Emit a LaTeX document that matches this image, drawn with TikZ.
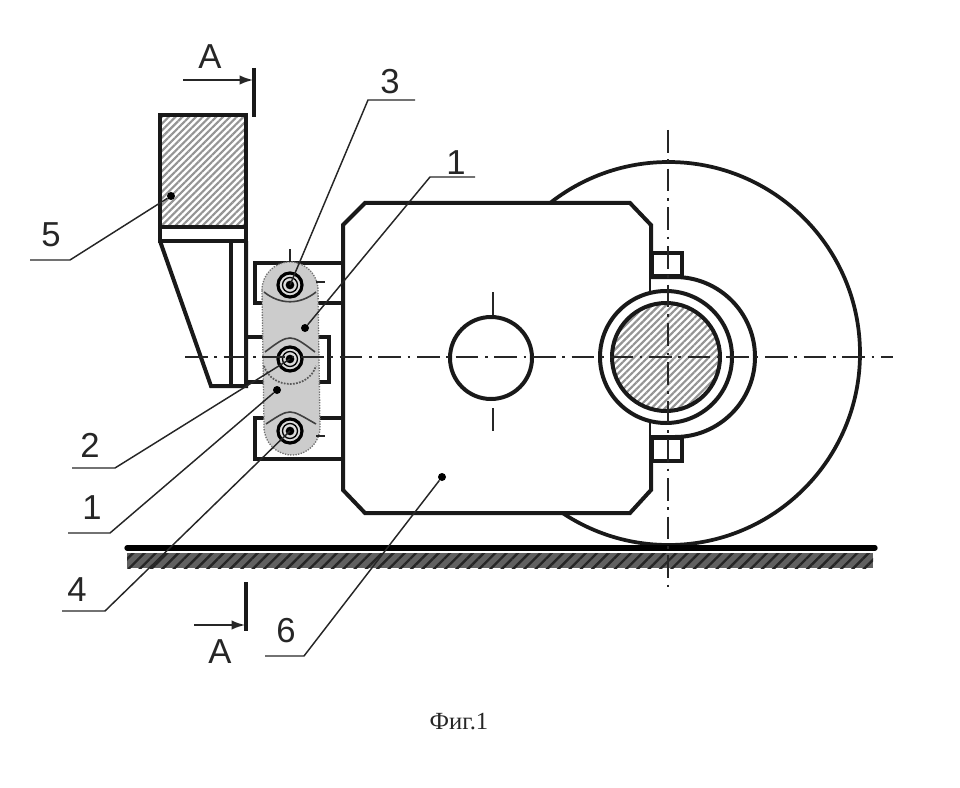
\documentclass[tikz,border=0pt]{standalone}
\usepackage{fontspec}
\setmainfont{Liberation Sans}
\newfontfamily\captionfont{Liberation Serif}
\usetikzlibrary{patterns.meta,arrows.meta}

\begin{document}
\begin{tikzpicture}
            [x=0.75pt,y=-0.75pt,
            outline/.style={line width=3pt,line join=miter,black!90},
            hatched/.style={pattern={Lines[angle=45,distance=3.6pt,line width=1.6pt]},pattern color=black!42},
            axisline/.style={line width=1.1pt,black!85,dash pattern=on 17pt off 5pt on 2pt off 5pt},
            leader/.style={line width=1.1pt,black!85},
            tip/.style={circle,fill=black,inner sep=0pt,minimum size=6pt},
            label/.style={font=\fontsize{26}{26}\selectfont,black!85,inner sep=0pt},
            cutbar/.style={line width=2.4pt,black!90},
            cutarrow/.style={line width=1.2pt,black!85,-{Latex[length=10pt,width=7pt]}},
            pin/.style={circle,draw=black,line width=2.4pt,fill=black!14,inner sep=0pt,minimum size=18pt}]

            \useasboundingbox (0,0) rectangle (960,788);

            % wheel and body
            \draw[outline,line width=2.8pt] (668.5,353.5) circle (191.5);
            \draw[outline,fill=white] (365,203) -- (630,203) -- (651,225) -- (651,490)
                -- (630,513) -- (365,513) -- (343,490) -- (343,225) -- cycle;
            \draw[axisline] (493,292) -- (493,432);
            \draw[outline,fill=white] (491,358) circle (41);

            % axle side
            \draw[outline,fill=white] (652,253) rectangle (682,276);
            \draw[outline,fill=white] (652,438) rectangle (682,461);
            \draw[outline,fill=white] (651,277) -- (675,277)
                arc[start angle=-90,end angle=90,radius=80] -- (651,437);
            \draw[outline,fill=white] (666,357) circle (66);
            \draw[outline,hatched] (666,357) circle (54);

            % cutter block
            \draw[outline,fill=white] (160,115) rectangle (246,241);
            \draw[outline,hatched] (160,115) rectangle (246,227);
            \draw[outline] (160,241) -- (211,386) -- (246,386) -- (246,241);
            \draw[outline,line width=2.4pt] (231,241) -- (231,386);

            % brackets
            \draw[outline] (343,263) -- (255,263) -- (255,303) -- (343,303);
            \draw[outline] (246,337) -- (329,337) -- (329,382) -- (246,382);
            \draw[outline] (343,418) -- (255,418) -- (255,459) -- (343,459);

            % link plates
            \draw[black!55,line width=1pt,densely dotted,fill=black!20]
                (262,290) arc[start angle=180,end angle=360,radius=28]
                -- (320,427) arc[start angle=0,end angle=180,radius=28] -- cycle;
            \draw[black!75,line width=1.2pt] (264,292) .. controls (280,305) and (300,305) .. (316,292);
            \draw[black!75,line width=1.2pt] (265,352) .. controls (278,342) and (284,338) .. (290,338)
                .. controls (296,338) and (302,342) .. (315,352);
            \draw[black!75,line width=1.2pt] (266,424) .. controls (278,416) and (284,412) .. (290,412)
                .. controls (296,412) and (302,416) .. (316,424);
            \draw[black!65,line width=1.3pt,densely dotted] (264,366) .. controls (272,390) and (308,390) .. (316,366);

            \draw[axisline,line width=1pt] (290,249) -- (290,262);
            \draw[axisline,line width=1pt] (316,282) -- (325,282);
            \draw[axisline,line width=1pt] (316,436) -- (325,436);

            % pins
            \foreach \name/\ypos in {pintop/285,pinmid/359,pinlow/431} {
                \node[pin] (\name) at (290,\ypos) {};
                \draw[black,line width=1pt] (290,\ypos) circle (7.5);
                \node[tip,minimum size=6.5pt] at (290,\ypos) {};
            }

            % ground
            \fill[black!62] (127,553) rectangle (873,568);
            \fill[pattern={Lines[angle=45,distance=6pt,line width=1.8pt]},pattern color=black!85]
                (127,553) rectangle (873,568);
            \draw[black,line width=4pt,line cap=round] (127,548) -- (875,548);

            % centre lines
            \draw[axisline] (185,357) -- (893,357);
            \draw[axisline] (668,130) -- (668,590);

            % leaders
            \node[tip] (dotfive) at (171,196) {};
            \node[tip] (dotoneup) at (305,328) {};
            \node[tip] (dotonelow) at (277,390) {};
            \node[tip] (dotsix) at (442,477) {};
            \coordinate (bendthree) at (368,100);
            \coordinate (endthree) at (415,100);
            \coordinate (bendoneup) at (430,177);
            \coordinate (endoneup) at (475,177);
            \coordinate (bendfive) at (70,260);
            \coordinate (endfive) at (30,260);
            \coordinate (bendtwo) at (115,468);
            \coordinate (endtwo) at (72,468);
            \coordinate (bendonelow) at (110,533);
            \coordinate (endonelow) at (68,533);
            \coordinate (bendfour) at (105,611);
            \coordinate (endfour) at (62,611);
            \coordinate (bendsix) at (304,656);
            \coordinate (endsix) at (265,656);

            \draw[leader] (pintop.center) -- (bendthree) -- (endthree);
            \draw[leader] (dotoneup) -- (bendoneup) -- (endoneup);
            \draw[leader] (dotfive) -- (bendfive) -- (endfive);
            \draw[leader] (pinmid.center) -- (bendtwo) -- (endtwo);
            \draw[leader] (dotonelow) -- (bendonelow) -- (endonelow);
            \draw[leader] (pinlow.center) -- (bendfour) -- (endfour);
            \draw[leader] (dotsix) -- (bendsix) -- (endsix);

            % labels
            \node[label] (labthree) at (390,82) {3};
            \node[label] (laboneup) at (456,163) {1};
            \node[label] (labfive) at (51,235) {5};
            \node[label] (labtwo) at (90,445) {2};
            \node[label] (labonelow) at (92,508) {1};
            \node[label] (labfour) at (77,590) {4};
            \node[label] (labsix) at (286,631) {6};

            % section marks
            \coordinate (cuttoptail) at (183,80);
            \coordinate (cuttophead) at (253,80);
            \coordinate (cutlowtail) at (194,625);
            \coordinate (cutlowhead) at (245,625);
            \draw[cutbar] (254,68) -- (254,117);
            \draw[cutbar] (246,582) -- (246,631);
            \draw[cutarrow] (cuttoptail) -- (cuttophead);
            \draw[cutarrow] (cutlowtail) -- (cutlowhead);
            \node[label] (secttop) at (210,57) {A};
            \node[label] (sectlow) at (220,652) {A};

            \node[font=\captionfont\fontsize{18.5}{19}\selectfont,black!85,inner sep=0pt] (caption) at (459,722) {Фиг.1};
        \end{tikzpicture}
\end{document}
